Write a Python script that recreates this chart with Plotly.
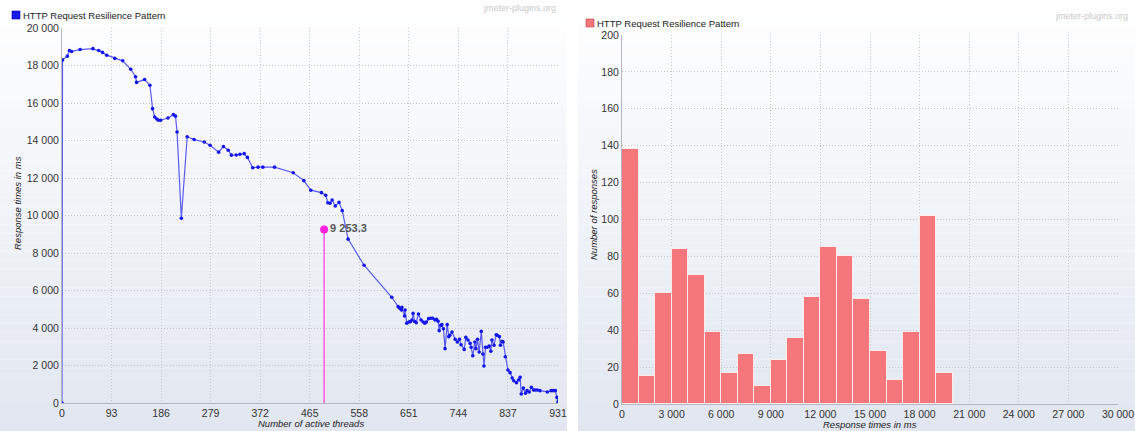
import plotly.graph_objects as go

# ---- Response times vs number of active threads ----
threads = [0, 1, 10, 14, 18, 34, 58, 69, 76, 84, 99, 114, 129, 138, 140, 155, 165, 170, 174, 178,
           181, 185, 199, 209, 213, 216, 224, 235, 248, 267, 278, 294, 303, 312, 318, 327, 334, 342,
           348, 358, 368, 377, 399, 434, 454, 467, 487, 495, 499, 503, 507, 513, 520, 526, 537, 567,
           619, 631, 634, 637, 638, 643, 644, 647, 651, 654, 657, 659, 662, 665, 669, 674, 678, 681,
           684, 688, 692, 696, 700, 703, 706, 708, 711, 713, 716, 719, 723, 726, 728, 732, 738, 742,
           746, 749, 755, 758, 762, 766, 768, 771, 775, 777, 780, 783, 787, 790, 792, 795, 798, 802,
           805, 807, 811, 815, 817, 821, 823, 826, 828, 832, 837, 841, 845, 848, 853, 857, 860, 862,
           866, 870, 873, 877, 881, 885, 888, 892, 897, 911, 918, 922, 926, 929, 931]
resp_ms = [0, 18300, 18500, 18800, 18750, 18850, 18900, 18800, 18700, 18550, 18380, 18250, 17800,
           17400, 17100, 17250, 16950, 15700, 15250, 15150, 15080, 15080, 15200, 15380, 15300, 14450,
           9850, 14200, 14050, 13920, 13750, 13380, 13680, 13480, 13220, 13230, 13270, 13300, 13100,
           12550, 12580, 12580, 12580, 12280, 11860, 11350, 11220, 11080, 10680, 10650, 10830, 10510,
           10700, 10260, 8740, 7350, 5640, 5140, 5050, 4960, 5100, 4640, 4960, 4250, 4320, 4340, 4430,
           4780, 4350, 4280, 4750, 4430, 4320, 4250, 4320, 4500, 4520, 4520, 4430, 4460, 4360, 3860,
           4140, 4180, 3960, 2900, 4180, 3540, 3610, 3790, 3400, 3250, 3400, 3110, 2860, 3500, 3360,
           3180, 2970, 2520, 3250, 2900, 3400, 2720, 3820, 2610, 1970, 2970, 2970, 3040, 2760, 3360,
           3080, 3640, 3610, 3540, 3080, 3290, 3250, 2470, 1760, 1620, 1330, 1190, 1080, 1230, 1370,
           480, 800, 520, 660, 590, 840, 690, 690, 690, 660, 590, 660, 660, 660, 300, 60]

thread_ticks = [0, 93, 186, 279, 372, 465, 558, 651, 744, 837, 931]

# highlighted point
cursor_threads = 492
cursor_value = 9253.3

# ---- Response time distribution ----
bin_start = [0, 1000, 2000, 3000, 4000, 5000, 6000, 7000, 8000, 9000,
             10000, 11000, 12000, 13000, 14000, 15000, 16000, 17000, 18000, 19000]
bin_width = 1000
responses = [138, 15, 60, 84, 70, 39, 17, 27, 10, 24, 36, 58, 85, 80, 57, 29, 13, 39, 102, 17]

series_name = "HTTP Request Resilience Pattern"

W, H = 1135, 431
FONT = "Liberation Sans"
TXT = "#333333"
GRID = "#c4c8cf"


def px_x(p):
    return p / W


def px_y(p):
    return 1 - p / H


fig = go.Figure()

fig.add_trace(go.Scatter(
    x=threads, y=resp_ms, mode="lines+markers",
    line=dict(color="#5a5af2", width=1.2),
    marker=dict(color="#1515ee", size=3.6),
    xaxis="x", yaxis="y", showlegend=False, hoverinfo="skip"))

fig.add_trace(go.Scatter(
    x=[cursor_threads, cursor_threads], y=[0, cursor_value], mode="lines",
    line=dict(color="#ff4de0", width=1.4),
    xaxis="x", yaxis="y", showlegend=False, hoverinfo="skip"))
fig.add_trace(go.Scatter(
    x=[cursor_threads], y=[cursor_value], mode="markers+text",
    marker=dict(color="#ff22dd", size=8),
    text=["9 253.3"], textposition="middle right",
    textfont=dict(family=FONT, size=11, color="#555555", weight="bold"),
    xaxis="x", yaxis="y", showlegend=False, hoverinfo="skip"))

fig.add_trace(go.Bar(
    x=[b + bin_width / 2 for b in bin_start], y=responses, width=bin_width,
    marker=dict(color="#f5777c", line=dict(color="rgba(255,255,255,0.75)", width=1)),
    xaxis="x2", yaxis="y2", showlegend=False, hoverinfo="skip"))

axis_common = dict(
    showgrid=True, gridcolor=GRID, griddash="1px,2px", gridwidth=1,
    zeroline=False, ticks="", tickfont=dict(family=FONT, size=10.5, color=TXT),
    showline=True, linecolor="#b5b8bf", linewidth=1, automargin=False,
)

fig.update_layout(
    width=W, height=H,
    margin=dict(l=0, r=0, t=0, b=0, autoexpand=False),
    paper_bgcolor="white", plot_bgcolor="rgba(0,0,0,0)",
    separators=". ",
    bargap=0,
    xaxis=dict(domain=[px_x(62), px_x(558)], range=[0, 931], tickvals=thread_ticks,
               ticktext=[str(t) for t in thread_ticks], anchor="y", **axis_common),
    yaxis=dict(domain=[px_y(403), px_y(28)], range=[0, 20000], dtick=2000,
               tickformat=",d", anchor="x", **axis_common),
    xaxis2=dict(domain=[px_x(622), px_x(1118)], range=[0, 30000], dtick=3000,
                tickformat=",d", anchor="y2", **axis_common),
    yaxis2=dict(domain=[px_y(404), px_y(35)], range=[0, 200], dtick=20,
                anchor="x2", **axis_common),
)

# panel backgrounds: vertical gradient from white to pale blue-grey
shapes = []
bands = 48
top_rgb = (255, 255, 255)
bot_rgb = (225, 230, 240)
for x0, x1 in [(0, 567), (578, W)]:
    for i in range(bands):
        t = (i + 0.5) / bands
        c = tuple(round(top_rgb[k] + (bot_rgb[k] - top_rgb[k]) * t) for k in range(3))
        shapes.append(dict(type="rect", xref="paper", yref="paper", layer="below",
                           x0=px_x(x0), x1=px_x(x1),
                           y0=px_y(H * (i + 1) / bands), y1=px_y(H * i / bands),
                           line=dict(width=0), fillcolor="rgb(%d,%d,%d)" % c))

# legend swatches
shapes.append(dict(type="rect", xref="paper", yref="paper",
                   x0=px_x(12), x1=px_x(20), y0=px_y(19), y1=px_y(11),
                   fillcolor="#1a1aee", line=dict(color="#0000aa", width=0.6)))
shapes.append(dict(type="rect", xref="paper", yref="paper",
                   x0=px_x(586), x1=px_x(594), y0=px_y(27), y1=px_y(19),
                   fillcolor="#f5777c", line=dict(color="#c04048", width=0.6)))
fig.update_layout(shapes=shapes)

legend_font = dict(family=FONT, size=9.5, color="#222")
ann = []
ann.append(dict(x=px_x(21), y=px_y(15), xref="paper", yref="paper", text=series_name,
                showarrow=False, xanchor="left", yanchor="middle", font=legend_font))
ann.append(dict(x=px_x(595), y=px_y(23), xref="paper", yref="paper", text=series_name,
                showarrow=False, xanchor="left", yanchor="middle", font=legend_font))
for x, y in [(558, 8), (1130, 16)]:
    ann.append(dict(x=px_x(x), y=px_y(y), xref="paper", yref="paper", text="jmeter-plugins.org",
                    showarrow=False, xanchor="right", yanchor="middle",
                    font=dict(family=FONT, size=9, color="#c8c8c8")))
title_font = dict(family=FONT, size=9.5, color="#222", style="italic")
ann.append(dict(x=px_x(18), y=px_y(203), xref="paper", yref="paper", text="Response times in ms",
                showarrow=False, textangle=-90, xanchor="center", yanchor="middle", font=title_font))
ann.append(dict(x=px_x(311), y=px_y(423), xref="paper", yref="paper", text="Number of active threads",
                showarrow=False, xanchor="center", yanchor="middle", font=title_font))
ann.append(dict(x=px_x(593), y=px_y(215), xref="paper", yref="paper", text="Number of responses",
                showarrow=False, textangle=-90, xanchor="center", yanchor="middle", font=title_font))
ann.append(dict(x=px_x(870), y=px_y(424), xref="paper", yref="paper", text="Response times in ms",
                showarrow=False, xanchor="center", yanchor="middle", font=title_font))
fig.update_layout(annotations=ann)

fig.write_html("out.html")
